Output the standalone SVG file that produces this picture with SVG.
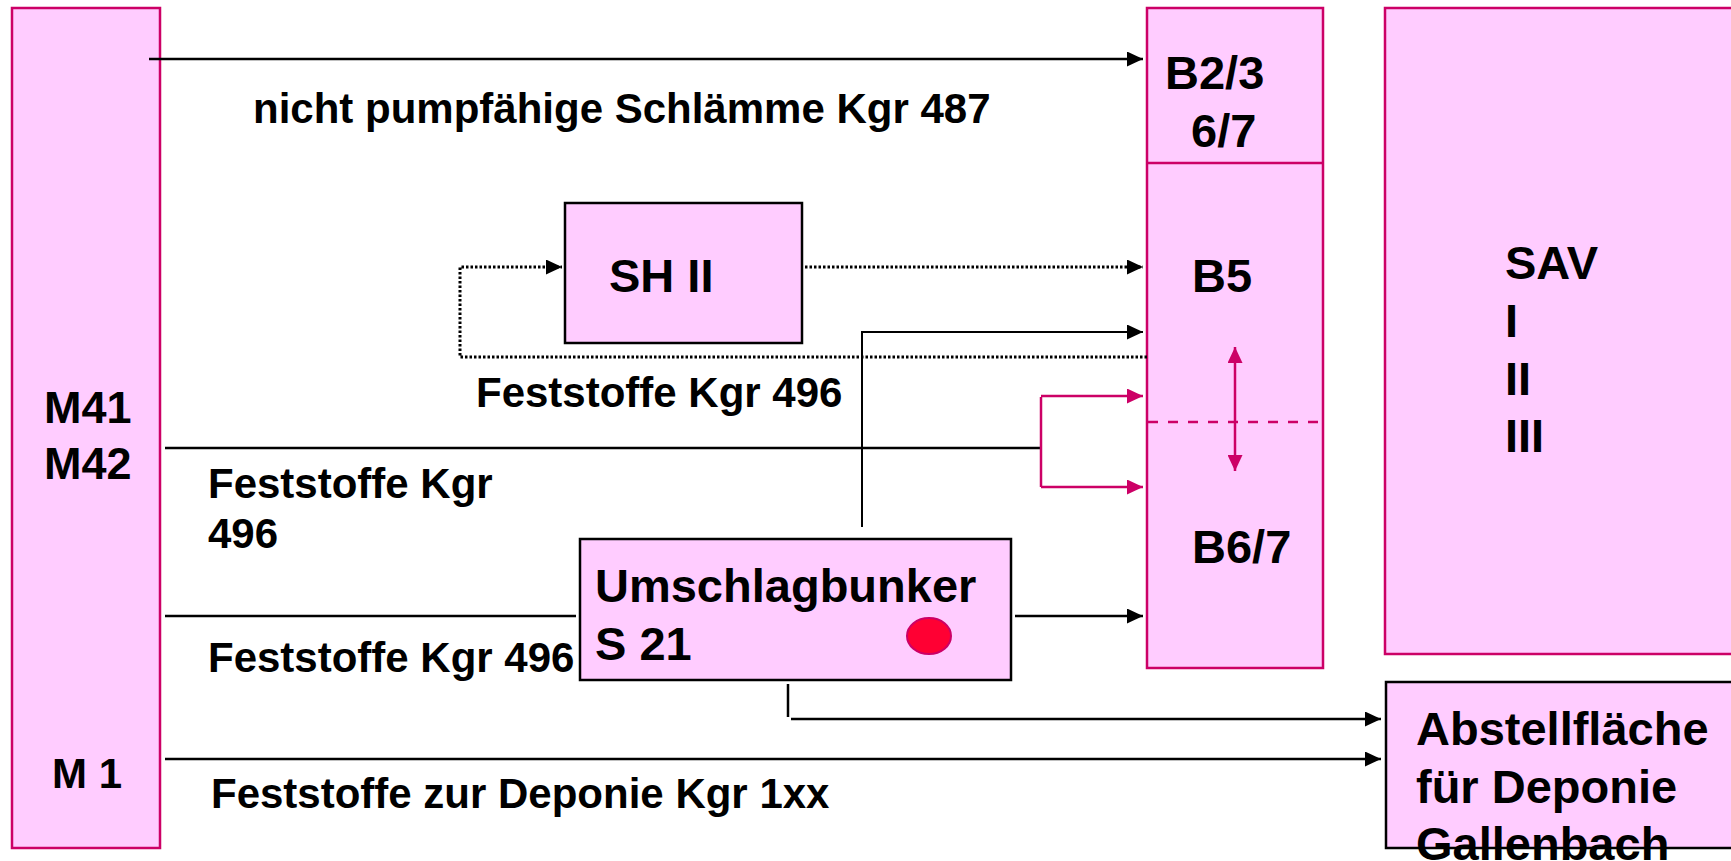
<svg xmlns="http://www.w3.org/2000/svg" width="1731" height="861" viewBox="0 0 1731 861">
<style>
.pk{fill:#FFCCFF;stroke:#CC0066;stroke-width:2.5}
.bk{fill:#FFCCFF;stroke:#000;stroke-width:2.5}
.n{font-family:"Liberation Sans",Arial,sans-serif;font-weight:bold;font-size:47px;fill:#000}
.l{font-family:"Liberation Sans",Arial,sans-serif;font-weight:bold;font-size:42px;fill:#000}
.c{fill:none;stroke:#000;stroke-width:2.5}
.d{fill:none;stroke:#000;stroke-width:3;stroke-dasharray:2.5,2}
.m{fill:none;stroke:#CC0066;stroke-width:2.5}
</style>
<defs>
<marker id="ab" markerUnits="userSpaceOnUse" markerWidth="16" markerHeight="15" refX="16" refY="7.5" orient="auto"><path d="M0,0 L16,7.5 L0,15 z" fill="#000"/></marker>
<marker id="am" markerUnits="userSpaceOnUse" markerWidth="16" markerHeight="15" refX="16" refY="7.5" orient="auto-start-reverse"><path d="M0,0 L16,7.5 L0,15 z" fill="#CC0066"/></marker>
</defs>
<rect width="1731" height="861" fill="#fff"/>
<g id="M">
<rect class="pk" x="12" y="8" width="148" height="840"/>
<text class="n" x="44" y="423" style="font-size:45px">M41</text>
<text class="n" x="44" y="479" style="font-size:45px">M42</text>
<text class="n" x="52" y="788" style="font-size:42px">M 1</text>
</g>
<g id="B">
<rect class="pk" x="1147" y="8" width="176" height="660"/>
<line x1="1147" y1="163" x2="1323" y2="163" stroke="#CC0066" stroke-width="2.5"/>
<line x1="1148" y1="422" x2="1322" y2="422" stroke="#CC0066" stroke-width="2.5" stroke-dasharray="10,10"/>
<text class="n" x="1165" y="89">B2/3</text>
<text class="n" x="1191" y="147">6/7</text>
<text class="n" x="1192" y="292">B5</text>
<text class="n" x="1192" y="563">B6/7</text>
</g>
<g id="SAV">
<rect class="pk" x="1385" y="8" width="360" height="646"/>
<text class="n" x="1505" y="279">SAV</text>
<text class="n" x="1505" y="337">I</text>
<text class="n" x="1505" y="395">II</text>
<text class="n" x="1505" y="452">III</text>
</g>
<g id="SHII">
<rect class="bk" x="565" y="203" width="237" height="140"/>
<text class="n" x="609" y="292">SH II</text>
</g>
<g id="S21">
<rect class="bk" x="580" y="539" width="431" height="141"/>
<text class="n" x="595" y="602">Umschlagbunker</text>
<text class="n" x="595" y="660">S 21</text>
<ellipse cx="929" cy="636" rx="22" ry="18" fill="#FF0033" stroke="#CC0066" stroke-width="2"/>
</g>
<g id="Abstell">
<rect class="bk" x="1386" y="682" width="360" height="166"/>
<text class="n" x="1416" y="745">Abstellfläche</text>
<text class="n" x="1416" y="803">für Deponie</text>
<text class="n" x="1416" y="860">Gallenbach</text>
</g>
<g id="connectors">
<line class="c" x1="149" y1="59" x2="1143" y2="59" marker-end="url(#ab)"/>
<line class="d" x1="805" y1="267" x2="1143" y2="267" marker-end="url(#ab)"/>
<polyline class="d" points="1147,357 460,357 460,267 562,267" marker-end="url(#ab)"/>
<polyline class="c" points="862,527 862,332 1143,332" marker-end="url(#ab)" style="stroke-width:2"/>
<line class="c" x1="165" y1="448" x2="1040" y2="448"/>
<line class="m" x1="1041" y1="397" x2="1041" y2="487"/>
<line class="m" x1="1041" y1="396" x2="1143" y2="396" marker-end="url(#am)"/>
<line class="m" x1="1041" y1="487" x2="1143" y2="487" marker-end="url(#am)"/>
<line class="m" x1="1235" y1="347" x2="1235" y2="471" marker-start="url(#am)" marker-end="url(#am)"/>
<line class="c" x1="165" y1="616" x2="576" y2="616"/>
<line class="c" x1="1015" y1="616" x2="1143" y2="616" marker-end="url(#ab)"/>
<line class="c" x1="788" y1="684" x2="788" y2="717"/>
<line class="c" x1="791" y1="719" x2="1381" y2="719" marker-end="url(#ab)"/>
<line class="c" x1="165" y1="759" x2="1381" y2="759" marker-end="url(#ab)"/>
</g>
<g id="labels">
<text class="l" x="253" y="123">nicht pumpfähige Schlämme Kgr 487</text>
<text class="l" x="476" y="407">Feststoffe Kgr 496</text>
<text class="l" x="208" y="498">Feststoffe Kgr</text>
<text class="l" x="208" y="548">496</text>
<text class="l" x="208" y="672">Feststoffe Kgr 496</text>
<text class="l" x="211" y="808">Feststoffe zur Deponie Kgr 1xx</text>
</g>
</svg>
